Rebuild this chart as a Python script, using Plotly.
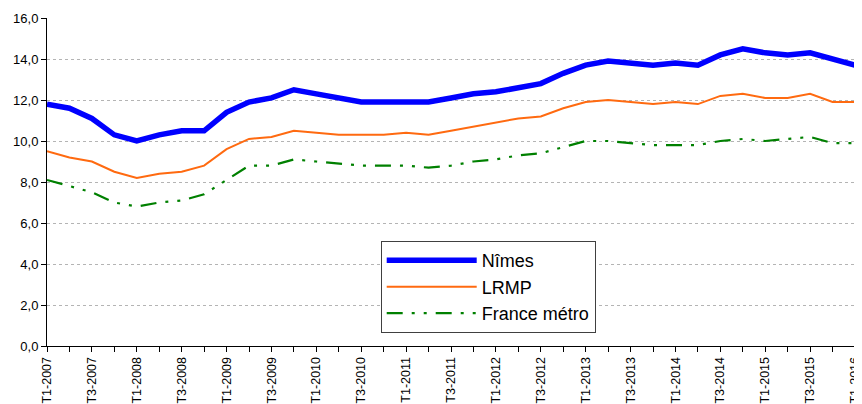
import plotly.graph_objects as go

quarters = [f"T{q}-{y}" for y in range(2007, 2016) for q in (1, 2, 3, 4)] + ["T1-2016"]

nimes = [11.8, 11.6, 11.1, 10.3, 10.0, 10.3, 10.5, 10.5, 11.4, 11.9, 12.1, 12.5,
         12.3, 12.1, 11.9, 11.9, 11.9, 11.9, 12.1, 12.3, 12.4, 12.6, 12.8, 13.3,
         13.7, 13.9, 13.8, 13.7, 13.8, 13.7, 14.2, 14.5, 14.3, 14.2, 14.3, 14.0, 13.7]
lrmp = [9.5, 9.2, 9.0, 8.5, 8.2, 8.4, 8.5, 8.8, 9.6, 10.1, 10.2, 10.5,
        10.4, 10.3, 10.3, 10.3, 10.4, 10.3, 10.5, 10.7, 10.9, 11.1, 11.2, 11.6,
        11.9, 12.0, 11.9, 11.8, 11.9, 11.8, 12.2, 12.3, 12.1, 12.1, 12.3, 11.9, 11.9]
france = [8.1, 7.8, 7.5, 7.0, 6.8, 7.0, 7.1, 7.4, 8.1, 8.8, 8.8, 9.1,
          9.0, 8.9, 8.8, 8.8, 8.8, 8.7, 8.8, 9.0, 9.1, 9.3, 9.4, 9.7,
          10.0, 10.0, 9.9, 9.8, 9.8, 9.8, 10.0, 10.1, 10.0, 10.1, 10.2, 9.9, 9.9]

tick_text = [q if i % 2 == 0 else "" for i, q in enumerate(quarters)]

fig = go.Figure()
fig.add_trace(go.Scatter(x=quarters, y=nimes, name="Nîmes", mode="lines",
                         line=dict(color="#0000FF", width=5.5), cliponaxis=False))
fig.add_trace(go.Scatter(x=quarters, y=lrmp, name="LRMP", mode="lines",
                         line=dict(color="#FF6A10", width=2), cliponaxis=False))
fig.add_trace(go.Scatter(x=quarters, y=france, name="France métro", mode="lines",
                         line=dict(color="#008000", width=2.2,
                                   dash="16px,9px,3px,9px,3px,9px"),
                         cliponaxis=False))

# page body keeps its default 8px margin, so the figure is sized to fit inside it
fig.update_layout(
    width=854, height=396,
    margin=dict(l=39, r=7, t=10, b=58),
    plot_bgcolor="white", paper_bgcolor="white",
    font=dict(family="Liberation Sans, Arial", color="black", size=13),
    separators=", ",
    showlegend=True,
    legend=dict(x=0.413, y=0.32, xanchor="left", yanchor="top",
                bgcolor="white", bordercolor="#404040", borderwidth=1,
                font=dict(size=18), itemwidth=90, tracegroupgap=0,
                entrywidth=245),
)
fig.update_xaxes(
    type="category", range=[0, len(quarters) - 1], automargin=False,
    tickmode="array", tickvals=quarters, ticktext=tick_text,
    tickangle=-90, ticks="outside", ticklen=5, tickcolor="black",
    tickfont=dict(size=12.5), ticklabeloverflow="allow",
    showline=True, linecolor="black", linewidth=1, showgrid=False,
)
fig.update_yaxes(
    range=[0, 16], dtick=2, tickformat=".1f", automargin=False,
    ticks="outside", ticklen=5, tickcolor="black",
    showline=True, linecolor="black", linewidth=1,
    showgrid=True, gridcolor="#B4B4B4", griddash="dot", gridwidth=1,
    zeroline=False,
)

fig.write_html("out.html")
